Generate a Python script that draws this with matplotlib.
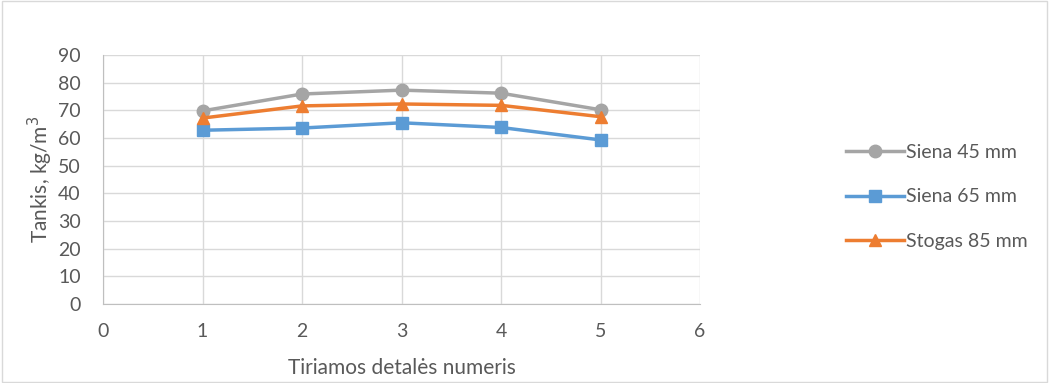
import matplotlib.pyplot as plt
from matplotlib.patches import Rectangle

# density of the tested parts
parts = [1, 2, 3, 4, 5]
siena45 = [69.8, 75.9, 77.3, 76.2, 70.2]
siena65 = [62.8, 63.6, 65.5, 63.8, 59.3]
stogas85 = [67.2, 71.6, 72.3, 71.8, 67.7]

labels = ['Siena 45 mm', 'Siena 65 mm', 'Stogas 85 mm']
colors = ['#a5a5a5', '#5b9bd5', '#ed7d31']
markers = ['o', 's', '^']

plt.rcParams['font.family'] = ['Lato', 'DejaVu Sans']
txt = '#595959'

fig = plt.figure(figsize=(10.49, 3.83), dpi=100)
fig.patches.append(Rectangle((0.002, 0.003), 0.996, 0.994, transform=fig.transFigure,
                             fill=False, edgecolor='#d9d9d9', linewidth=1))
ax = fig.add_axes([103 / 1049, 1 - 304 / 383, 597 / 1049, 249 / 383])

for vals, lab, c, m in zip([siena45, siena65, stogas85], labels, colors, markers):
    ax.plot(parts, vals, color=c, linewidth=2.5, marker=m, markersize=9,
            markeredgecolor=c, label=lab, zorder=3)

ax.set_xlim(0, 6)
ax.set_ylim(0, 90)
ax.set_xticks(range(0, 7))
ax.set_yticks(range(0, 91, 10))
ax.grid(True, color='#d9d9d9', linewidth=1)
ax.set_axisbelow(True)
for side in ['top', 'right']:
    ax.spines[side].set_visible(False)
ax.spines['left'].set_color('#bfbfbf')
ax.spines['bottom'].set_color('#bfbfbf')
ax.tick_params(length=0, labelsize=14, colors=txt)
ax.tick_params(axis='x', pad=14)
ax.tick_params(axis='y', pad=16)

ax.set_xlabel('Tiriamos detalės numeris', fontsize=15, color=txt, labelpad=13)
ax.set_ylabel('Tankis, kg/m$^3$', fontsize=15, color=txt)
ax.yaxis.set_label_coords(-0.08, 0.5)

ax.legend(loc='center left', bbox_to_anchor=(1.215, 0.43), frameon=False,
          fontsize=14, labelcolor=txt, handlelength=3, labelspacing=1.4,
          handletextpad=0.1)

plt.savefig('out.png', dpi=100)
